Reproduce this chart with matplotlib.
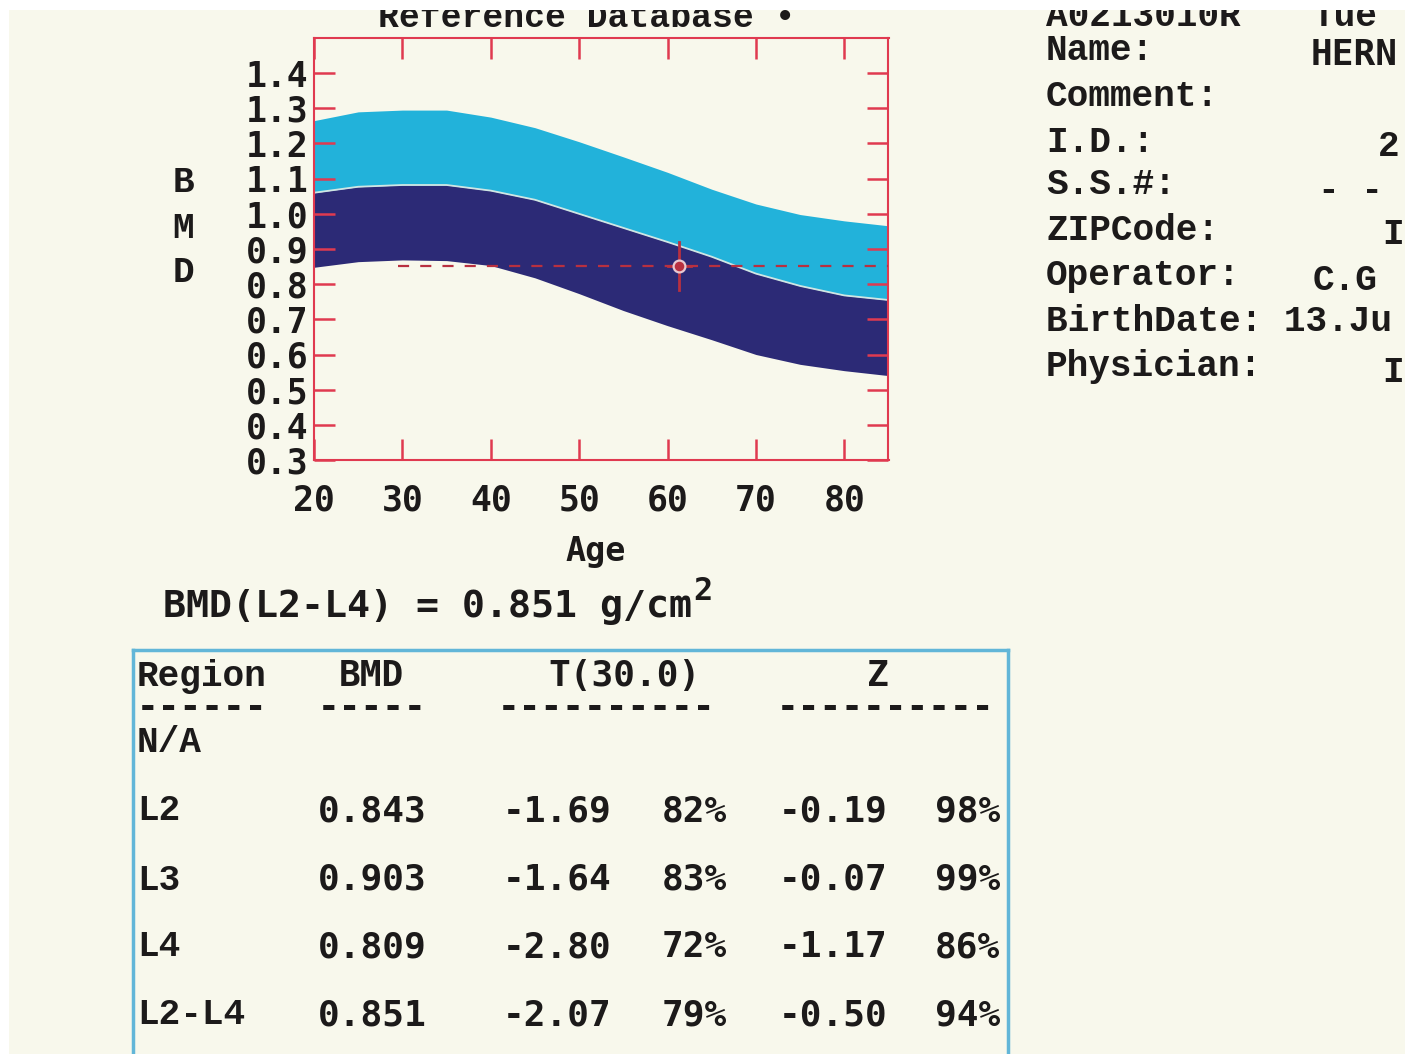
import matplotlib
matplotlib.use("Agg")
import matplotlib.pyplot as plt
from matplotlib.patches import Rectangle
from matplotlib.lines import Line2D

# reference curves
ages = [20, 25, 30, 35, 40, 45, 50, 55, 60, 65, 70, 75, 80, 85]
upper = [1.265, 1.290, 1.295, 1.295, 1.275, 1.245, 1.205, 1.162, 1.118, 1.070, 1.028, 0.998, 0.980, 0.966]
middle = [1.060, 1.077, 1.082, 1.082, 1.066, 1.040, 1.000, 0.960, 0.920, 0.878, 0.830, 0.795, 0.768, 0.755]
lower = [0.848, 0.864, 0.869, 0.867, 0.853, 0.818, 0.773, 0.725, 0.682, 0.642, 0.600, 0.572, 0.554, 0.540]

patient_age = 61.3
patient_bmd = 0.851
patient_err = 0.068
ref_line_start = 29.5

y_ticks = [0.3, 0.4, 0.5, 0.6, 0.7, 0.8, 0.9, 1.0, 1.1, 1.2, 1.3, 1.4]
x_ticks = [20, 30, 40, 50, 60, 70, 80]

# results table
regions = ["N/A", "L2", "L3", "L4", "L2-L4"]
bmd_vals = ["", "0.843", "0.903", "0.809", "0.851"]
t_scores = ["", "-1.69", "-1.64", "-2.80", "-2.07"]
t_pct = ["", "82%", "83%", "72%", "79%"]
z_scores = ["", "-0.19", "-0.07", "-1.17", "-0.50"]
z_pct = ["", "98%", "99%", "86%", "94%"]

# patient info panel (right-hand values are cut by the photo edge)
info_labels = ["A0213010R", "Name:", "Comment:", "I.D.:", "S.S.#:", "ZIPCode:",
               "Operator:", "BirthDate: 13.Ju", "Physician:"]
info_values = [(1313, "Tue"), (1311, "HERN"), None, (1378, "2"), (1318, "- -"),
               (1404, "I"), (1313, "C.G"), None, (1404, "I")]

W, H = 1405, 1054
paper = "#f8f8ec"
ink = "#1c1a1a"
frame = "#e03a50"
cyan = "#22b2da"
navy = "#2c2a76"
mark = "#b83040"

fig = plt.figure(figsize=(W / 100, H / 100), dpi=100, facecolor=paper)


def fx(px):
    return px / W


def fy(py):
    return 1 - py / H


mono = "DejaVu Sans Mono"
cour = "Liberation Mono"

ax = fig.add_axes([fx(314), fy(460), fx(888.5) - fx(314), fy(38) - fy(460)])
ax.set_facecolor("none")
ax.fill_between(ages, middle, upper, color=cyan, lw=0, zorder=1)
ax.fill_between(ages, lower, middle, color=navy, lw=0, zorder=1)
ax.plot(ages, middle, color="#cfe6e4", lw=1.3, zorder=2)

# patient result: dashed level line + crosshair
ax.plot([ref_line_start, 85], [patient_bmd, patient_bmd], color=mark, lw=1.6,
        dashes=(5, 5), zorder=3)
ax.plot([patient_age, patient_age], [patient_bmd - patient_err, patient_bmd + patient_err],
        color=mark, lw=2, zorder=3)
ax.plot([patient_age - 1.3, patient_age + 1.3], [patient_bmd, patient_bmd],
        color=mark, lw=2, zorder=3)
ax.plot(patient_age, patient_bmd, "o", ms=8.5, mfc=mark, mec="#e8c8d0", mew=1.6, zorder=4)

ax.set_xlim(20, 85)
ax.set_ylim(0.3, 1.5)
ax.set_xticks(x_ticks)
ax.set_yticks(y_ticks)
ax.set_xticklabels([str(t) for t in x_ticks])
ax.set_yticklabels([f"{t:.1f}" for t in y_ticks])
for s in ax.spines.values():
    s.set_color(frame)
    s.set_linewidth(1.5)
ax.tick_params(axis="both", direction="in", length=15, width=1.8, color=frame,
               top=True, right=True, labelsize=25, labelcolor=ink)
ax.tick_params(axis="x", pad=17)
ax.tick_params(axis="y", pad=4)
for lab in ax.get_xticklabels() + ax.get_yticklabels():
    lab.set_fontfamily(mono)
    lab.set_fontweight("bold")

# axis labels
for ch, py in zip("BMD", [183, 228, 273]):
    fig.text(fx(183), fy(py), ch, family=cour, weight="bold", size=26, color=ink,
             ha="center", va="center")
fig.text(fx(596), fy(552), "Age", family=mono, weight="bold", size=24, color=ink,
         ha="center", va="center")

# title (cut off by the scan edge)
fig.text(fx(378), fy(27), "Reference Database \u2022", family=cour, weight="bold",
         size=25, color=ink, ha="left", va="baseline")

# info panel
rows_y = [26, 50, 96, 142, 185, 230, 275, 322, 367]
for i, (lab, py) in enumerate(zip(info_labels, rows_y)):
    va = "baseline" if i == 0 else "center"
    fig.text(fx(1046), fy(py), lab, family=cour, weight="bold", size=26, color=ink,
             ha="left", va=va)
    val = info_values[i]
    if val is not None:
        px, txt = val
        ha = "right" if txt == "I" else "left"
        if i == 0:
            fig.text(fx(px), fy(py), txt, family=cour, weight="bold", size=26,
                     color=ink, ha=ha, va="baseline")
        else:
            fig.text(fx(px), fy(py + 5), txt, family=mono if i == 1 else cour,
                     weight="bold", size=26, color=ink, ha=ha, va="center")

# white scan border
fig.patches.append(Rectangle((0, fy(10)), 1, 1, transform=fig.transFigure,
                             facecolor="white", edgecolor="none", zorder=10))
fig.patches.append(Rectangle((0, 0), fx(9), 1, transform=fig.transFigure,
                             facecolor="white", edgecolor="none", zorder=10))

# BMD summary line, superscript 2 tacked onto the end
summ = fig.text(fx(163), fy(607), "BMD(L2-L4) = 0.851 g/cm", family=mono, weight="bold",
                size=27.5, color=ink, ha="left", va="center")
ax.annotate("2", xy=(1.0, 1.0), xycoords=summ, xytext=(1, -2), textcoords="offset points",
            family=mono, weight="bold", size=23, color=ink, ha="left", va="center",
            annotation_clip=False)

# table frame
box = "#62b6d8"
fig.lines.append(Line2D([fx(133), fx(1008)], [fy(650), fy(650)], transform=fig.transFigure,
                        color=box, lw=2.5))
fig.lines.append(Line2D([fx(133), fx(133)], [fy(650), 0], transform=fig.transFigure,
                        color=box, lw=2.5))
fig.lines.append(Line2D([fx(1008), fx(1008)], [fy(650), 0], transform=fig.transFigure,
                        color=box, lw=2.5))

hdr = [(137, "Region", "left"), (371, "BMD", "center"), (625, "T(30.0)", "center"),
       (878, "Z", "center")]
for px, txt, ha in hdr:
    fig.text(fx(px), fy(676), txt, family=cour if txt == "Region" else mono,
             weight="bold", size=26, color=ink, ha=ha, va="center")
dash_cols = [(137, 6), (318, 5), (498, 10), (777, 10)]
for px, n in dash_cols:
    fig.text(fx(px), fy(708), "-" * n, family=mono, weight="bold", size=26, color=ink,
             ha="left", va="center")

row_y = [743, 811, 880, 947, 1015]
for i, py in enumerate(row_y):
    fig.text(fx(137), fy(py), regions[i], family=cour, weight="bold", size=26, color=ink,
             ha="left", va="center")
    fig.text(fx(318), fy(py), bmd_vals[i], family=mono, weight="bold", size=26, color=ink,
             ha="left", va="center")
    fig.text(fx(612), fy(py), t_scores[i], family=mono, weight="bold", size=26, color=ink,
             ha="right", va="center")
    fig.text(fx(727), fy(py), t_pct[i], family=mono, weight="bold", size=26, color=ink,
             ha="right", va="center")
    fig.text(fx(887), fy(py), z_scores[i], family=mono, weight="bold", size=26, color=ink,
             ha="right", va="center")
    fig.text(fx(1000), fy(py), z_pct[i], family=mono, weight="bold", size=26, color=ink,
             ha="right", va="center")

fig.savefig("out.png", dpi=100, facecolor=paper)
